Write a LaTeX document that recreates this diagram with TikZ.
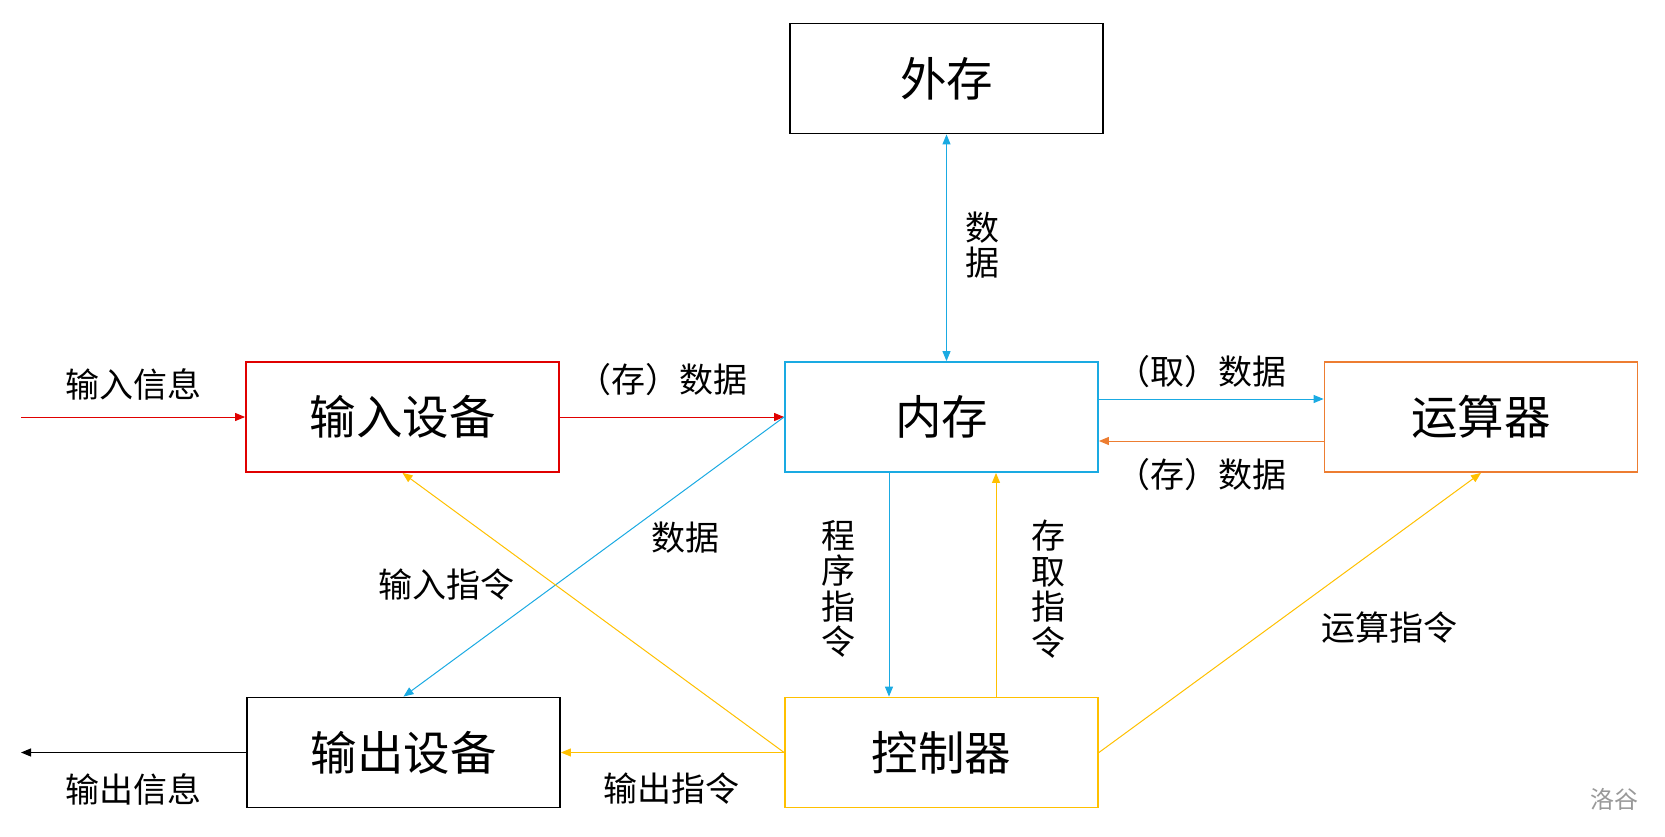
\documentclass[tikz,border=0pt]{standalone}
\usepackage{fontspec}
\newfontfamily\cjk{Noto Sans CJK SC}
\usetikzlibrary{arrows.meta}
\definecolor{cred}{HTML}{E00000}
\definecolor{cblue}{HTML}{1AAAE2}
\definecolor{corange}{HTML}{ED7D31}
\definecolor{cyellow}{HTML}{FFC000}
\tikzset{
  box/.style={draw, line width=1.8pt, minimum width=313pt, minimum height=110pt, inner sep=0pt, font=\cjk\fontsize{46.5}{50}\selectfont},
  lbl/.style={inner sep=0pt, font=\cjk\fontsize{34}{35.5}\selectfont, align=center},
  conn/.style={line width=1pt, -{Triangle[length=10pt,width=8pt]}},
  dconn/.style={line width=1pt, {Triangle[length=10pt,width=8pt]}-{Triangle[length=10pt,width=8pt]}},
}
\begin{document}
\begin{tikzpicture}[x=1pt,y=-1pt]
\useasboundingbox (0,0) rectangle (1665,837);
\node[box] (ext) at (946.5,78.5) {外存};
\node[box, draw=cred] (in) at (402.5,417) {输入设备};
\node[box, draw=cblue] (mem) at (941.5,417) {内存};
\node[box, draw=corange] (alu) at (1481,417) {运算器};
\node[box] (out) at (403.5,752.5) {输出设备};
\node[box, draw=cyellow] (ctrl) at (941.5,752.5) {控制器};

\coordinate (inL) at (21,417);
\coordinate (outL) at (21,752.5);

\draw[conn, cred] (inL) -- (in.west);
\draw[conn, cred] (in.east) -- (mem.west);
\draw[dconn, cblue] (ext.south) -- (ext.south |- mem.north);
\draw[conn, cblue] ([yshift=18pt]mem.east) -- ([yshift=18pt]alu.west);
\draw[conn, corange] ([yshift=-24pt]alu.west) -- ([yshift=-24pt]mem.east);
\draw[conn, cblue] (mem.west) -- (out.north);
\draw[conn, cyellow] (ctrl.west) -- (in.south);
\draw[conn, cyellow] (ctrl.west) -- (out.east);
\draw[conn, cblue] ([xshift=-52.5pt]mem.south) -- ([xshift=-52.5pt]ctrl.north);
\draw[conn, cyellow] ([xshift=54.5pt]ctrl.north) -- ([xshift=54.5pt]mem.south);
\draw[conn, cyellow] (ctrl.east) -- (alu.south);
\draw[conn, black] (out.west) -- (outL);

\node[lbl] (l1) at (133,384) {输入信息};
\node[lbl] (l2) at (662,380) {（存）数据};
\node[lbl] (l3) at (982,245) {数\\据};
\node[lbl] (l4) at (1201,372) {（取）数据};
\node[lbl] (l5) at (1201,475) {（存）数据};
\node[lbl] (l6) at (685,538) {数据};
\node[lbl] (l7) at (446,585) {输入指令};
\node[lbl] (l8) at (838,589) {程\\序\\指\\令};
\node[lbl] (l9) at (1048,589) {存\\取\\指\\令};
\node[lbl] (l10) at (1389,628) {运算指令};
\node[lbl] (l11) at (133,789) {输出信息};
\node[lbl] (l12) at (671,789) {输出指令};
\node[inner sep=0pt, text=gray!80, font=\cjk\fontsize{24}{26}\selectfont] (wm) at (1614,799) {洛谷};
\end{tikzpicture}
\end{document}
